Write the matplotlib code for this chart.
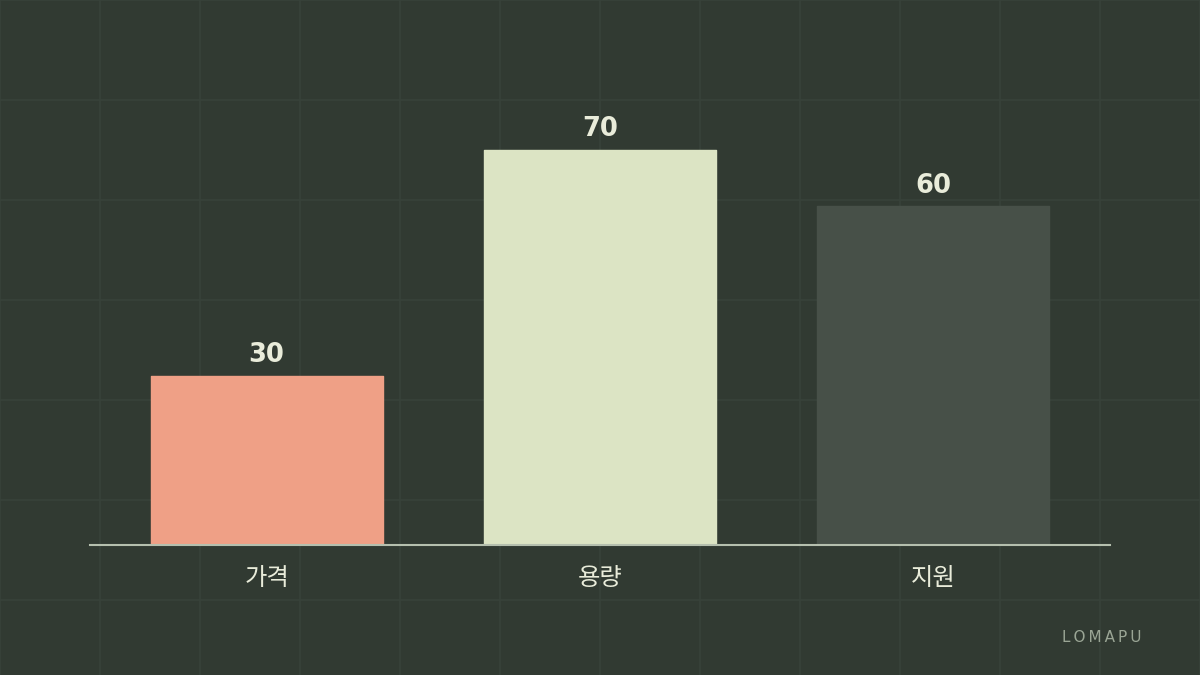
import matplotlib
matplotlib.use('Agg')
import matplotlib.pyplot as plt
from matplotlib.lines import Line2D

plt.rcParams['font.family'] = ['DejaVu Sans', 'Noto Sans CJK KR']

categories = ['가격', '용량', '지원']
values = [30, 70, 60]
bar_colors = ['#EFA086', '#DCE4C4', '#475048']

bg = '#313A32'
grid_color = '#38423A'
text_color = '#E9ECDA'

fig = plt.figure(figsize=(12, 6.75), dpi=100)
fig.patch.set_facecolor(bg)

# background grid every 100 px across the whole canvas
bg_ax = fig.add_axes([0, 0, 1, 1])
bg_ax.set_xlim(0, 1200)
bg_ax.set_ylim(675, 0)
bg_ax.set_facecolor(bg)
bg_ax.axis('off')
for gx in range(0, 1201, 100):
    bg_ax.axvline(gx, color=grid_color, lw=1.2, zorder=0)
for gy in range(0, 676, 100):
    bg_ax.axhline(gy, color=grid_color, lw=1.2, zorder=0)

# main axes: 100..1100 px wide, baseline at y=545 px
ax = fig.add_axes([100 / 1200, 130 / 675, 1000 / 1200, 495 / 675])
ax.patch.set_alpha(0)
ax.set_xlim(-0.5, 2.5)
ax.set_ylim(0, 495 / (395 / 70))
for s in ax.spines.values():
    s.set_visible(False)
ax.set_xticks([])
ax.set_yticks([])

x = range(len(categories))
bars = ax.bar(x, values, width=0.696, color=bar_colors, edgecolor=bar_colors,
              linewidth=1.0, joinstyle='round', zorder=2)

for xi, v, cat in zip(x, values, categories):
    ax.annotate(str(v), (xi, v), xytext=(0, 10), textcoords='offset points',
                ha='center', va='baseline', fontsize=18.5, fontweight='bold',
                color=text_color)
    ax.annotate(cat, (xi, 0), xytext=(0, -23.5), textcoords='offset points',
                ha='center', va='center', fontsize=17.5, color=text_color,
                family=['Noto Sans CJK KR', 'DejaVu Sans'])

# baseline
fig.add_artist(Line2D([90 / 1200, 1110 / 1200], [130 / 675, 130 / 675],
                      color='#B5BFAE', lw=1.5, zorder=5))

fig.text(1141 / 1200, 1 - 637 / 675, 'L\u2009O\u2009M\u2009A\u2009P\u2009U',
         ha='right', va='center', fontsize=11, color='#9AA595')

fig.savefig('out.png', dpi=100, facecolor=bg)
